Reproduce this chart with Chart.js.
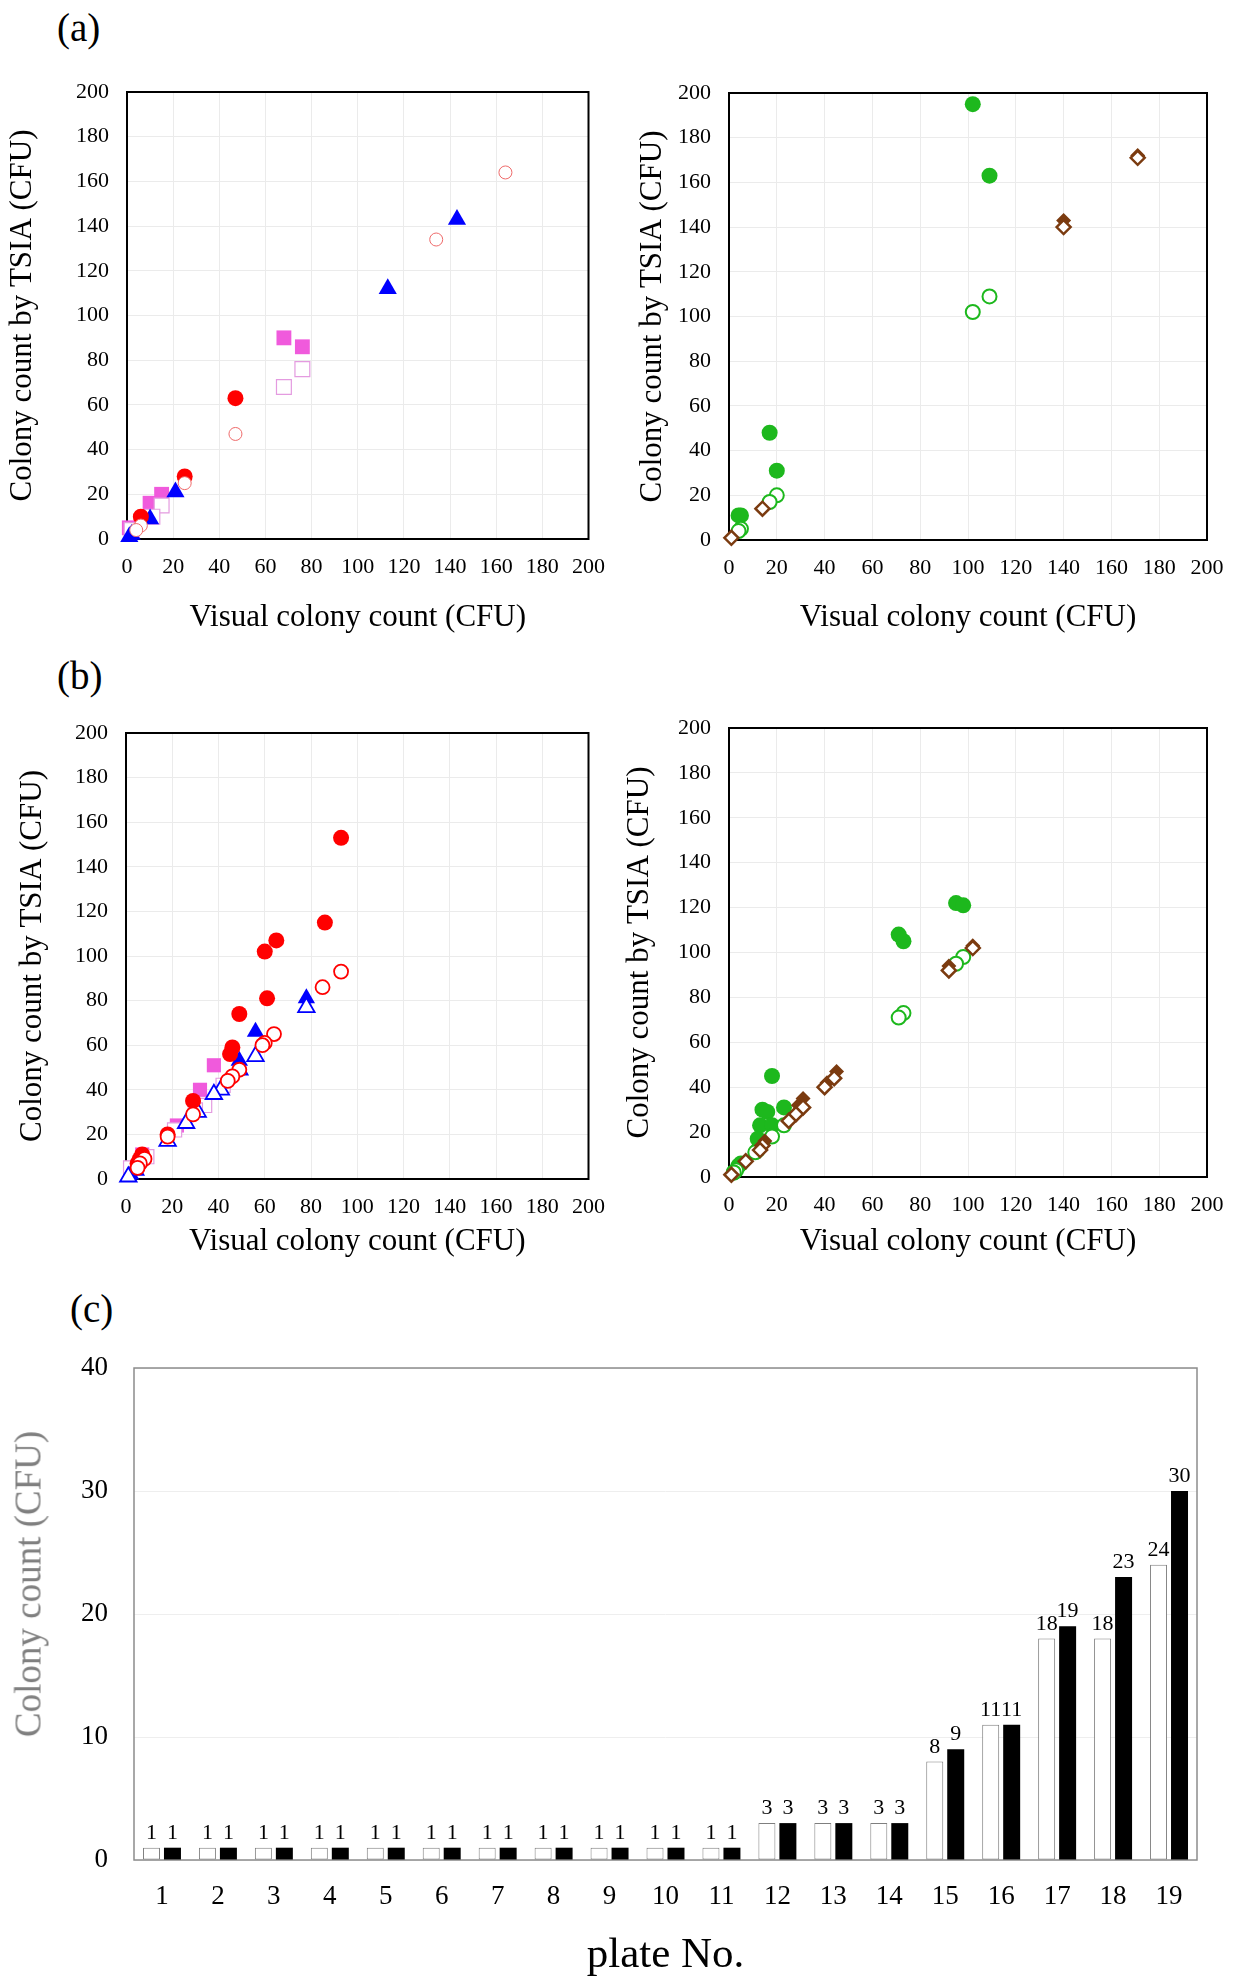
<!DOCTYPE html>
<html>
<head>
<meta charset="utf-8">
<script src="https://cdn.jsdelivr.net/npm/chart.js@4.4.1/dist/chart.umd.min.js"></script>
<style>
  body { margin: 0; background: #fff; }
  #page { position: relative; width: 1240px; height: 1977px; background: #fff; overflow: hidden; }
  canvas { position: absolute; }
  .tag { position: absolute; font-family: "Liberation Serif", "Times New Roman", serif; font-size: 39px; line-height: 1; color: #000; }
  .ytitle { position: absolute; font-family: "Liberation Serif", "Times New Roman", serif; font-size: 37px; line-height: 1;
            color: #7f7f7f; white-space: nowrap; transform: translate(-50%, -50%) rotate(-90deg); }
</style>
</head>
<body>
<div id="page">
  <div class="tag" style="left:57px;top:8px">(a)</div>
  <div class="tag" style="left:57px;top:656px">(b)</div>
  <div class="tag" style="left:70px;top:1289px">(c)</div>
  <canvas id="aLeft" width="620" height="600" style="left:0;top:60px"></canvas>
  <canvas id="aRight" width="610" height="600" style="left:630px;top:60px"></canvas>
  <canvas id="bLeft" width="620" height="590" style="left:0;top:690px"></canvas>
  <canvas id="bRight" width="620" height="590" style="left:620px;top:690px"></canvas>
  <canvas id="plates" width="1240" height="687" style="left:0;top:1290px"></canvas>
  <div class="ytitle" style="left:28px;top:1584px">Colony count (CFU)</div>
</div>
<script>
// (a) left panel: [visual, TSIA]
const aLeftRedFilled = [[47, 63], [25, 28], [6, 10]];
const aLeftRedOpen = [[164, 164], [134, 134], [47, 47], [25, 25], [6, 6], [4, 4]];
const aLeftBlueTri = [[143, 143], [113, 112], [21, 21], [10, 9], [2, 2], [1, 1]];
const aLeftPinkFilled = [[68, 90], [76, 86], [15, 20], [10, 16], [1, 5]];
const aLeftPinkOpen = [[68, 68], [76, 76], [15, 15], [11, 10], [2, 4]];

// (a) right panel
const aRightGreenFilled = [[102, 195], [109, 163], [17, 48], [20, 31], [4, 11], [5, 11]];
const aRightGreenOpen = [[102, 102], [109, 109], [20, 20], [17, 17], [5, 5], [4, 4]];
const aRightBrownFilled = [[140, 143], [171, 172], [14, 14], [1, 1]];
const aRightBrownOpen = [[140, 140], [171, 171], [14, 14], [1, 1]];

// (b) left panel
const bLeftRedFilled = [[93, 153], [86, 115], [65, 107], [60, 102], [61, 81], [49, 74], [46, 59], [45, 56], [29, 35], [18, 20], [7, 11], [6, 9], [5, 7]];
const bLeftRedOpen = [[93, 93], [85, 86], [64, 65], [60, 61], [59, 60], [49, 49], [46, 46], [44, 44], [29, 29], [18, 19], [8, 9], [6, 7], [5, 5]];
const bLeftBlueFilled = [[78, 81], [56, 66], [49, 53], [2, 2], [1, 1]];
const bLeftBlueOpen = [[78, 77], [56, 55], [49, 49], [41, 40], [38, 38], [31, 30], [26, 25], [18, 17], [4, 4], [1, 1]];
const bLeftPinkFilled = [[38, 51], [32, 40], [22, 24], [7, 11], [2, 5]];
const bLeftPinkOpen = [[42, 42], [34, 33], [30, 31], [21, 22], [9, 10], [2, 5]];

// (b) right panel
const bRightGreenFilled = [[95, 122], [98, 121], [71, 108], [73, 105], [18, 45], [23, 31], [14, 30], [16, 29], [13, 23], [18, 23], [12, 17], [5, 6], [4, 5], [2, 2]];
const bRightGreenOpen = [[98, 98], [95, 95], [73, 73], [71, 71], [23, 23], [18, 18], [12, 12], [11, 11], [3, 3], [2, 2]];
const bRightBrownFilled = [[102, 103], [92, 94], [45, 47], [41, 42], [31, 35], [29, 32], [15, 16], [1, 1]];
const bRightBrownOpen = [[102, 102], [92, 92], [44, 44], [40, 40], [31, 31], [28, 28], [25, 25], [14, 14], [13, 12], [7, 7], [1, 1]];

// (c) bar chart
const plateNos = ["1", "2", "3", "4", "5", "6", "7", "8", "9", "10", "11", "12", "13", "14", "15", "16", "17", "18", "19"];
const whiteCounts = [1, 1, 1, 1, 1, 1, 1, 1, 1, 1, 1, 3, 3, 3, 8, 11, 18, 18, 24];
const blackCounts = [1, 1, 1, 1, 1, 1, 1, 1, 1, 1, 1, 3, 3, 3, 9, 11, 19, 23, 30];

const SERIF = '"Liberation Serif", "Times New Roman", serif';
const RED = "#ff0000", BLUE = "#0000ff", PINK = "#f05adc", PINK_LIGHT = "#e49be0";
const GREEN = "#1db81d", BROWN = "#7b3b10";

const toPoints = (arr) => arr.map(([x, y]) => ({ x, y }));

// frame round the plot area, drawn under the marks
const boxPlugin = {
  id: "box",
  beforeDatasetsDraw(chart, args, opts) {
    const { ctx, chartArea: a } = chart;
    ctx.save();
    ctx.strokeStyle = opts.color;
    ctx.lineWidth = opts.width;
    ctx.strokeRect(a.left, a.top, a.right - a.left, a.bottom - a.top);
    ctx.restore();
  }
};

// numbers above the bars
const barValuePlugin = {
  id: "barValues",
  afterDatasetsDraw(chart) {
    const { ctx } = chart;
    ctx.save();
    ctx.font = "22px " + SERIF;
    ctx.fillStyle = "#000";
    ctx.textAlign = "center";
    ctx.textBaseline = "alphabetic";
    chart.data.datasets.forEach((ds, i) => {
      chart.getDatasetMeta(i).data.forEach((bar, j) => {
        ctx.fillText(String(ds.data[j]), bar.x, bar.y - 9);
      });
    });
    ctx.restore();
  }
};

const series = (data, style, radius, fill, stroke, width) => ({
  data: toPoints(data),
  pointStyle: style,
  pointRadius: radius,
  backgroundColor: fill,
  borderColor: stroke,
  borderWidth: width,
  clip: false
});

const makeScatter = (id, geo, datasets) => {
  const [x0, y0, x1, y1] = geo.box;
  const titleSize = 31, tickSize = 22;
  new Chart(document.getElementById(id), {
    type: "scatter",
    data: { datasets },
    options: {
      responsive: false,
      animation: false,
      events: [],
      layout: { padding: { left: 0, top: y0 - geo.top, right: geo.left + geo.width - x1, bottom: 0 } },
      plugins: {
        legend: { display: false },
        tooltip: { enabled: false },
        box: { color: "#000", width: 2 }
      },
      scales: {
        x: {
          min: 0, max: 200,
          ticks: { stepSize: 20, autoSkip: false, maxRotation: 0, padding: 15, color: "#000", font: { family: SERIF, size: tickSize } },
          grid: { color: "#ebebeb", drawTicks: false },
          border: { display: false },
          title: {
            display: true, text: "Visual colony count (CFU)", color: "#000",
            font: { family: SERIF, size: titleSize, lineHeight: 1.2 },
            padding: { top: 0, bottom: geo.top + geo.height - geo.xTitleY - titleSize * 0.6 }
          },
          afterFit: (s) => { s.height = geo.top + geo.height - y1; }
        },
        y: {
          min: 0, max: 200,
          ticks: { stepSize: 20, padding: 18, color: "#000", font: { family: SERIF, size: tickSize } },
          grid: { color: "#ebebeb", drawTicks: false },
          border: { display: false },
          title: {
            display: true, text: "Colony count by TSIA (CFU)", color: "#000",
            font: { family: SERIF, size: titleSize, lineHeight: 1.2 },
            padding: { top: geo.yTitleX - geo.left - titleSize * 0.6, bottom: 0 }
          },
          afterFit: (s) => { s.width = x0 - geo.left; }
        }
      }
    },
    plugins: [boxPlugin]
  });
};

makeScatter("aLeft", { left: 0, top: 60, width: 620, height: 600, box: [127, 92, 601, 539], yTitleX: 23, xTitleY: 618 }, [
  series(aLeftRedOpen, "circle", 6.5, "#fff", "#ee6a6a", 1),
  series(aLeftRedFilled, "circle", 8, RED, RED, 0),
  series(aLeftBlueTri, "triangle", 10.5, BLUE, BLUE, 0),
  series(aLeftPinkOpen, "rect", 10.5, "#fff", PINK_LIGHT, 1.2),
  series(aLeftPinkFilled, "rect", 10.5, PINK, PINK, 0)
]);

makeScatter("aRight", { left: 630, top: 60, width: 610, height: 600, box: [729, 93, 1207, 540], yTitleX: 653, xTitleY: 618 }, [
  series(aRightBrownOpen, "rectRot", 7, "#fff", BROWN, 2.5),
  series(aRightBrownFilled, "rectRot", 7.5, BROWN, BROWN, 0),
  series(aRightGreenOpen, "circle", 7, "#fff", GREEN, 2),
  series(aRightGreenFilled, "circle", 8, GREEN, GREEN, 0)
]);

makeScatter("bLeft", { left: 0, top: 690, width: 620, height: 590, box: [126, 733, 604, 1179], yTitleX: 33, xTitleY: 1242 }, [
  series(bLeftRedOpen, "circle", 7, "#fff", RED, 1.8),
  series(bLeftRedFilled, "circle", 8, RED, RED, 0),
  series(bLeftBlueOpen, "triangle", 9.5, "#fff", BLUE, 1.8),
  series(bLeftBlueFilled, "triangle", 10, BLUE, BLUE, 0),
  series(bLeftPinkOpen, "rect", 10, "#fff", PINK_LIGHT, 1.2),
  series(bLeftPinkFilled, "rect", 10, PINK, PINK, 0)
]);

makeScatter("bRight", { left: 620, top: 690, width: 620, height: 590, box: [729, 728, 1207, 1177], yTitleX: 640, xTitleY: 1242 }, [
  series(bRightBrownOpen, "rectRot", 7, "#fff", BROWN, 2.5),
  series(bRightBrownFilled, "rectRot", 7.5, BROWN, BROWN, 0),
  series(bRightGreenOpen, "circle", 7, "#fff", GREEN, 2),
  series(bRightGreenFilled, "circle", 8, GREEN, GREEN, 0)
]);

// (c) plate counts
new Chart(document.getElementById("plates"), {
  type: "bar",
  data: {
    labels: plateNos,
    datasets: [
      { data: whiteCounts, backgroundColor: "#fff", borderColor: "#7f7f7f", borderWidth: 1, borderSkipped: false },
      { data: blackCounts, backgroundColor: "#000", borderColor: "#000", borderWidth: 0 }
    ]
  },
  options: {
    responsive: false,
    animation: false,
    events: [],
    datasets: { bar: { categoryPercentage: 0.75, barPercentage: 0.81 } },
    layout: { padding: { left: 0, top: 1368 - 1290, right: 1240 - 1197, bottom: 0 } },
    plugins: {
      legend: { display: false },
      tooltip: { enabled: false },
      box: { color: "#8c8c8c", width: 1.5 }
    },
    scales: {
      x: {
        grid: { display: false, drawTicks: false },
        border: { display: false },
        ticks: { padding: 21, color: "#000", font: { family: SERIF, size: 27 } },
        title: {
          display: true, text: "plate No.", color: "#000",
          font: { family: SERIF, size: 43, lineHeight: 1 },
          padding: { top: 0, bottom: 0 }
        },
        afterFit: (s) => { s.height = 1977 - 1860; }
      },
      y: {
        min: 0, max: 40,
        ticks: { stepSize: 10, padding: 26, color: "#000", font: { family: SERIF, size: 27 } },
        grid: { color: "#eeeeee", drawTicks: false },
        border: { display: false },
        afterFit: (s) => { s.width = 134; }
      }
    }
  },
  plugins: [boxPlugin, barValuePlugin]
});
</script>
</body>
</html>
